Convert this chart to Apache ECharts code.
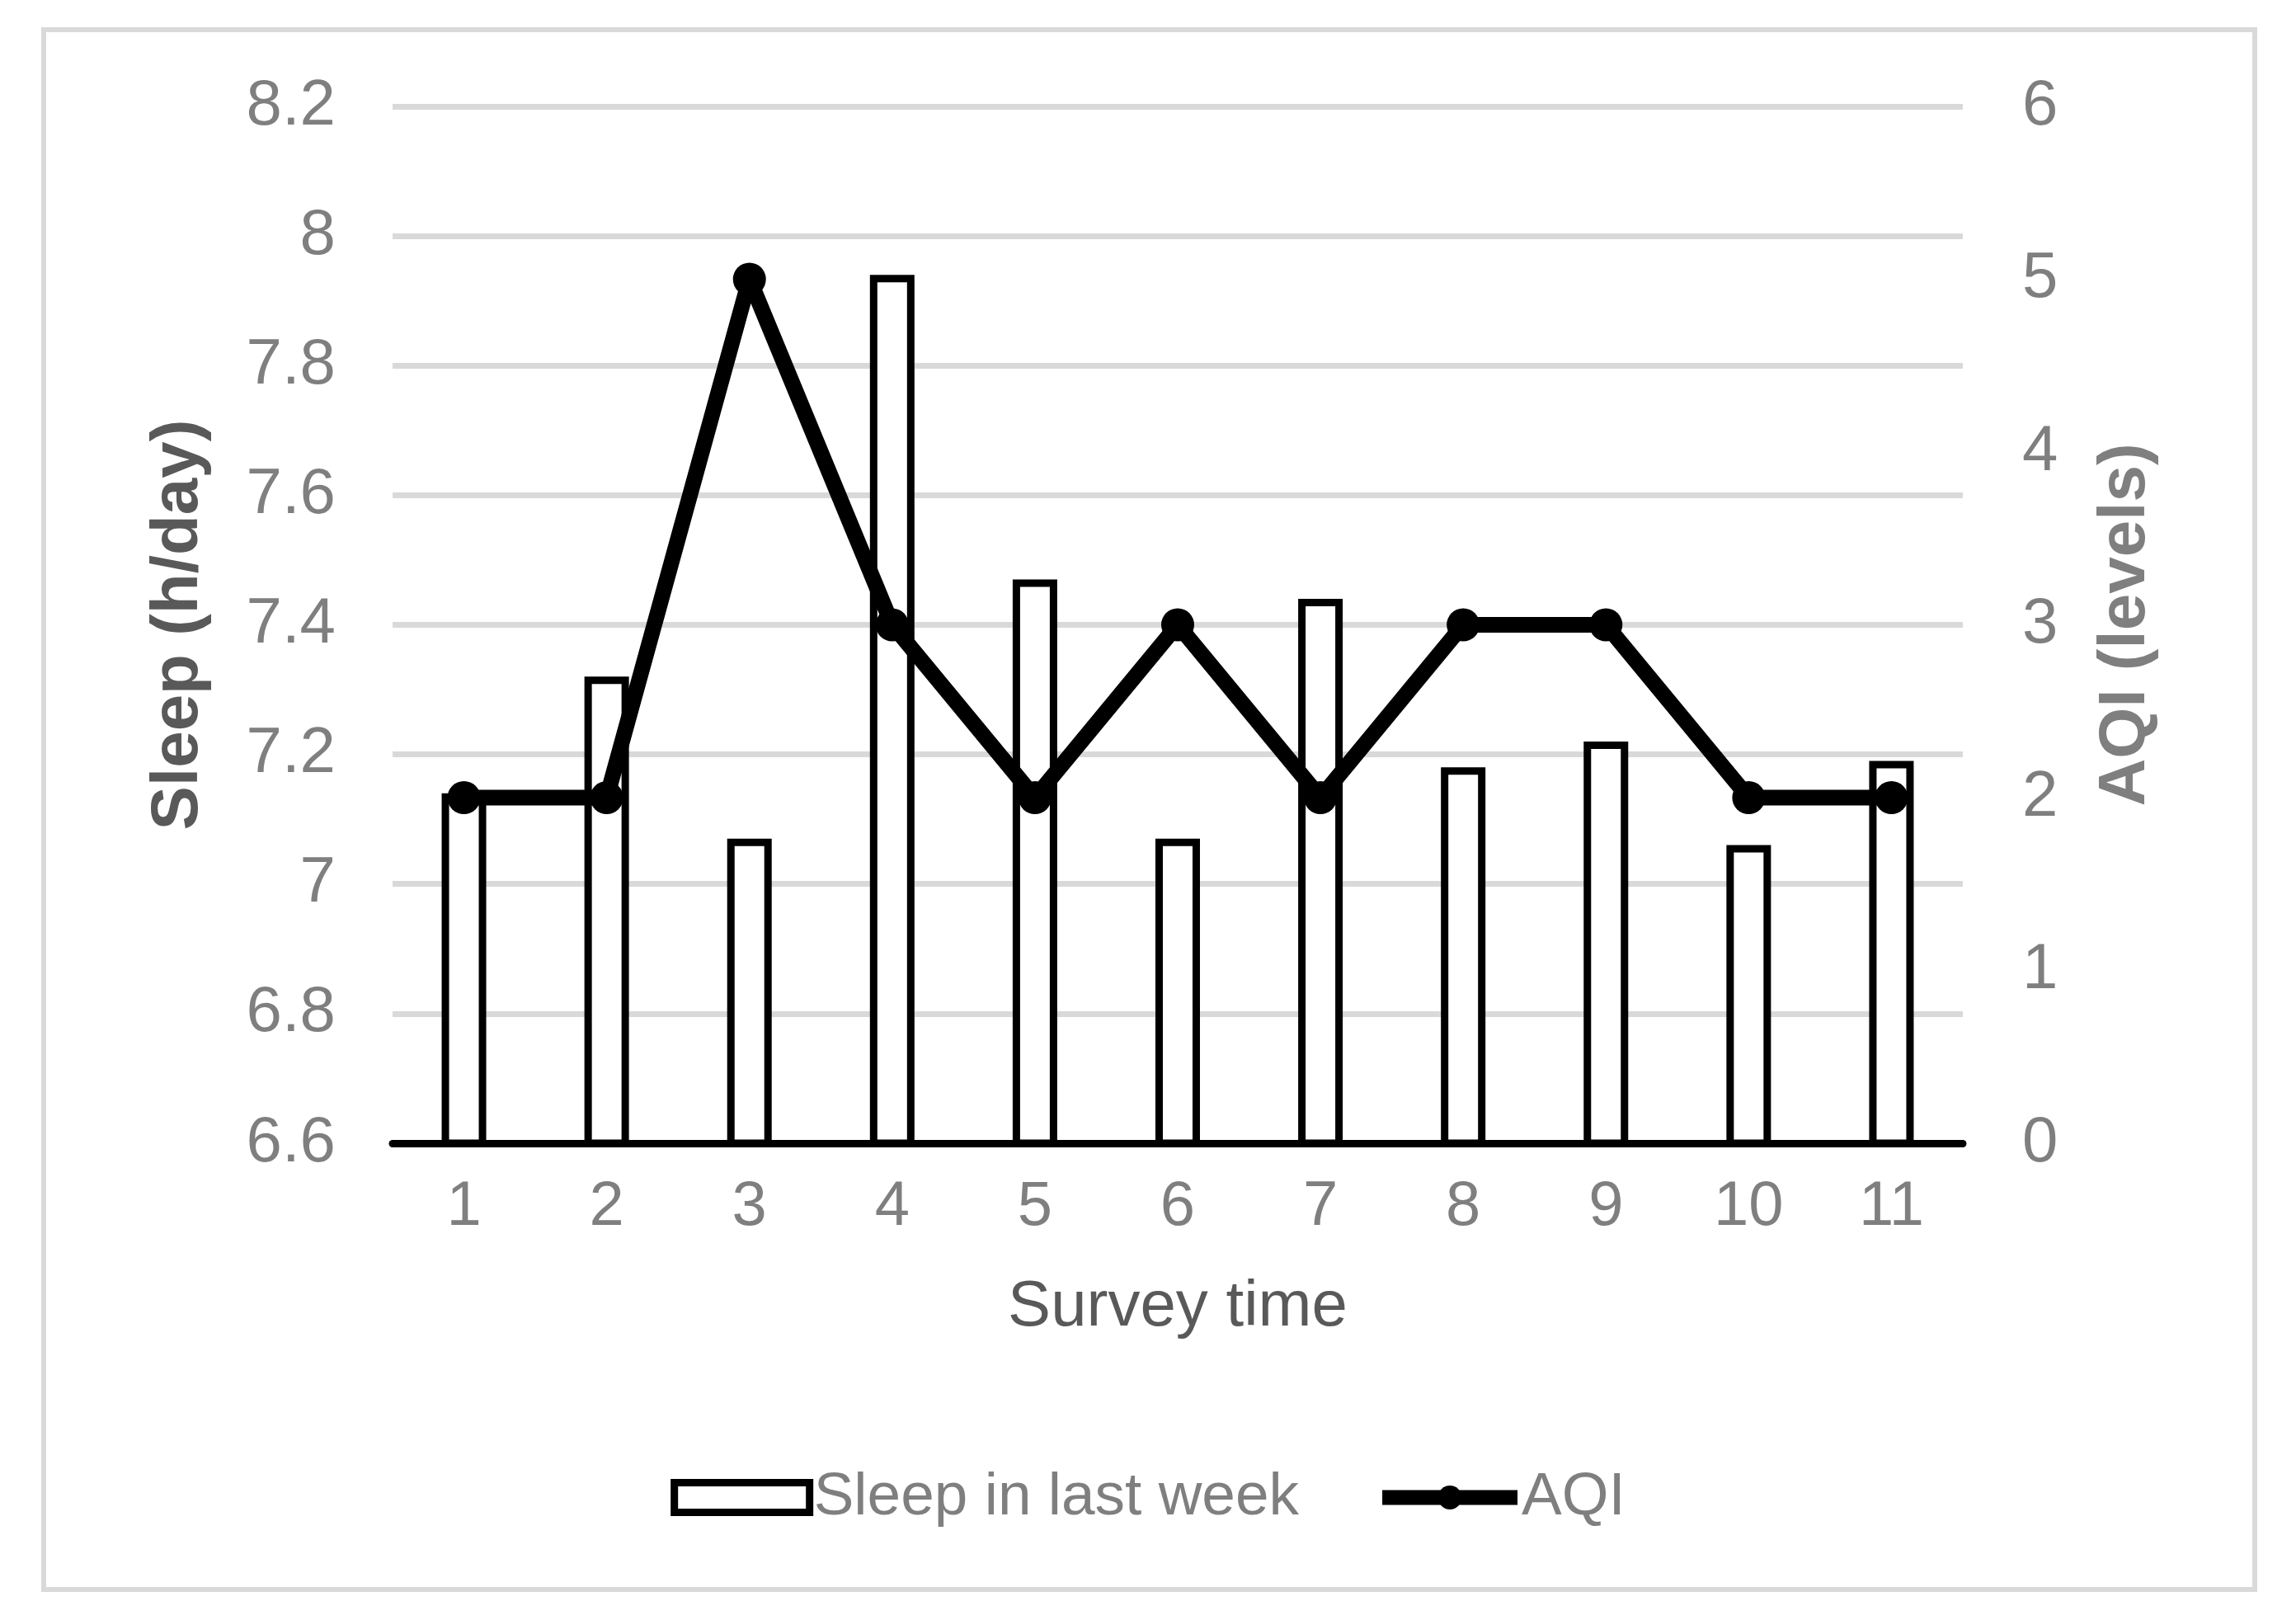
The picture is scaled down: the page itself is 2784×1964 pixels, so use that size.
<!DOCTYPE html>
<html>
<head>
<meta charset="utf-8">
<script src="https://cdn.jsdelivr.net/npm/echarts@6/dist/echarts.min.js"></script>
<style>
html,body{margin:0;padding:0;background:#fff;}
#chart{width:2784px;height:1964px;}
</style>
</head>
<body>
<div id="chart"></div>
<script>
const categories = ['1','2','3','4','5','6','7','8','9','10','11'];
const sleepValues = [7.14, 7.32, 7.07, 7.94, 7.47, 7.07, 7.44, 7.18, 7.22, 7.06, 7.19];
const aqiValues = [2, 2, 5, 3, 2, 3, 2, 3, 3, 2, 2];
const sleepName = 'Sleep in last week';
const aqiName = 'AQI';
const leftAxisTitle = 'Sleep (h/day)';
const rightAxisTitle = 'AQI (levels)';
const xAxisTitle = 'Survey time';

const FONT = "'Liberation Sans', Arial, sans-serif";
const chart = echarts.init(document.getElementById('chart'));
chart.setOption({
  backgroundColor: '#ffffff',
  animation: false,
  graphic: [{
    type: 'rect',
    shape: { x: 53, y: 36, width: 2681, height: 1891 },
    style: { fill: 'none', stroke: '#d9d9d9', lineWidth: 6 },
    silent: true
  }],
  grid: { left: 476, right: 404, top: 129, bottom: 578 },
  legend: {
    data: [
      { name: sleepName, icon: 'rect',
        itemStyle: { color: '#ffffff', borderColor: '#000000', borderWidth: 9 } },
      { name: aqiName,
        lineStyle: { color: '#000000', width: 18 },
        itemStyle: { color: '#000000' } }
    ],
    left: 'center',
    top: 1774,
    itemWidth: 164,
    itemHeight: 36,
    itemGap: 92,
    textStyle: { fontFamily: FONT, fontSize: 73, color: '#7f7f7f' }
  },
  xAxis: {
    type: 'category',
    data: categories,
    name: xAxisTitle,
    nameLocation: 'middle',
    nameGap: 160,
    nameTextStyle: { fontFamily: FONT, fontSize: 78, color: '#595959' },
    axisTick: { show: false },
    axisLine: { lineStyle: { color: '#000', width: 9 } },
    axisLabel: { fontFamily: FONT, fontSize: 76, color: '#7f7f7f', margin: 40 }
  },
  yAxis: [{
    type: 'value',
    min: 6.6, max: 8.2, interval: 0.2,
    name: leftAxisTitle,
    nameLocation: 'middle',
    nameGap: 219,
    nameTextStyle: { fontFamily: FONT, fontSize: 80, fontWeight: 'bold', color: '#595959' },
    axisLine: { show: false },
    axisTick: { show: false },
    splitLine: { lineStyle: { color: '#d9d9d9', width: 7 } },
    axisLabel: { fontFamily: FONT, fontSize: 78, color: '#7f7f7f', margin: 69,
      formatter: v => String(+v.toFixed(1)) }
  }, {
    type: 'value',
    min: 0, max: 6, interval: 1,
    name: rightAxisTitle,
    nameLocation: 'middle',
    nameGap: 158,
    nameTextStyle: { fontFamily: FONT, fontSize: 80, fontWeight: 'bold', color: '#7f7f7f' },
    axisLine: { show: false },
    axisTick: { show: false },
    splitLine: { show: false },
    axisLabel: { fontFamily: FONT, fontSize: 78, color: '#7f7f7f', margin: 72 }
  }],
  series: [{
    name: sleepName,
    type: 'bar',
    data: sleepValues,
    barWidth: 54,
    itemStyle: { color: '#ffffff', borderColor: '#000000', borderWidth: 9 },
    z: 2
  }, {
    name: aqiName,
    type: 'line',
    yAxisIndex: 1,
    data: aqiValues,
    symbol: 'circle',
    symbolSize: 40,
    lineStyle: { color: '#000000', width: 19 },
    itemStyle: { color: '#000000' },
    z: 3
  }]
});
</script>
</body>
</html>
